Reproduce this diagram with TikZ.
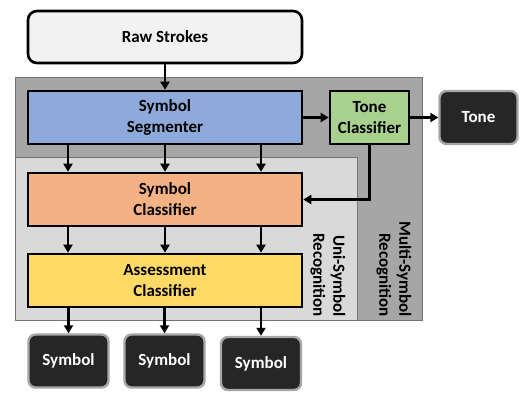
\documentclass[tikz,border=0pt]{standalone}
\usepackage{fontspec}
\setmainfont{Carlito}
\usetikzlibrary{positioning,arrows.meta}
\definecolor{segblue}{HTML}{8EAADB}
\definecolor{tonegreen}{HTML}{A9D18E}
\definecolor{clsorange}{HTML}{F4B183}
\definecolor{asmyellow}{HTML}{FFD966}
\definecolor{outdark}{HTML}{262626}
\definecolor{multigray}{HTML}{A6A6A6}
\definecolor{unigray}{HTML}{D9D9D9}
\tikzstyle{block}=[
draw=black,
line width=2.6pt,
minimum width=274pt,
minimum height=53pt,
align=center,
font=\fontsize{17}{21}\selectfont\bfseries
]
\tikzstyle{outbox}=[
draw=multigray,
fill=outdark,
line width=2.4pt,
rounded corners=7pt,
minimum width=80pt,
minimum height=53pt,
text=white,
font=\fontsize{17}{21}\selectfont\bfseries
]
\tikzstyle{region}=[draw=black!55,line width=0.7pt]
\tikzstyle{arr} = [draw,line width=2.2pt,-{Triangle[length=8pt,width=9pt]}]
\tikzstyle{tag} = [rotate=-90,align=right,anchor=east,inner sep=2pt,
font=\fontsize{17}{20}\selectfont\bfseries]

\begin{document}
\begin{tikzpicture}[x=1pt,y=-1pt]
			\useasboundingbox (0,0) rectangle (523,392);
			
			% recognition regions
			\path[region,fill=multigray] (15,77) rectangle (422,320);
			\path[region,fill=unigray] (15,157) rectangle (357,320);
			\node[tag] (multi) at (394,319) {Multi-Symbol\\Recognition};
			\node[tag] (uni) at (328,319) {Uni-Symbol\\Recognition};
			
			\node[block,fill=black!5,rounded corners=9pt,minimum height=52pt] (raw) at (165,37) {Raw Strokes};
			\node[block,fill=segblue] (seg) at (165,117.5) {Symbol\\Segmenter};
			\node[block,fill=tonegreen,minimum width=79pt,inner sep=2pt] (tonecls) at (369.5,117.5) {Tone\\Classifier};
			\node[outbox,minimum width=78pt] (tone) [right=28pt of tonecls] {Tone};
			\node[block,fill=clsorange] (cls) at (165,199.5) {Symbol\\Classifier};
			\node[block,fill=asmyellow] (asm) at (165,280.5) {Assessment\\Classifier};
			\node[outbox] (sym1) at (68.5,361) {Symbol};
			\node[outbox] (sym2) at (164.5,361) {Symbol};
			\node[outbox] (sym3) at (261,363.5) {Symbol};
			
			\path[arr] (raw) -- (seg);
			\path[arr] (seg) -- (tonecls);
			\path[arr] (tonecls) -- (tone);
			\path[arr] (tonecls.south) |- (cls.east);
			\foreach \dx in {-97,0,96} {
				\path[arr] ([xshift=\dx]seg.south) -- ([xshift=\dx]cls.north);
				\path[arr] ([xshift=\dx]cls.south) -- ([xshift=\dx]asm.north);
			}
			\foreach \s in {sym1,sym2,sym3}
				\path[arr] (asm.south -| \s) -- (\s.north);
			
			\end{tikzpicture}
\end{document}
